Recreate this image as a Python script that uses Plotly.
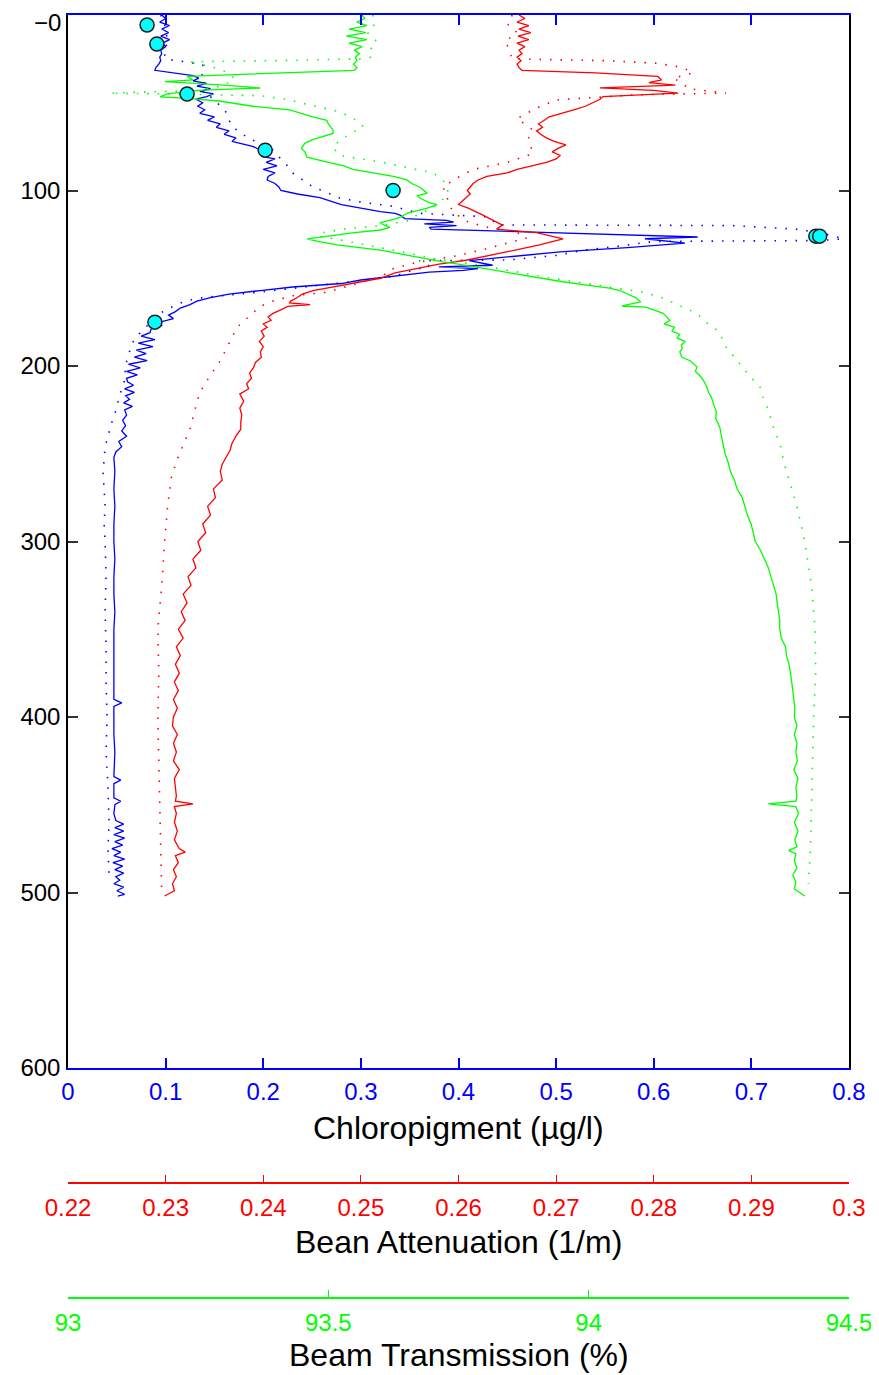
import plotly.graph_objects as go

# ---------------- data ----------------
chl_depth = [0,2,4,6,8,10,12,14,16,18,20,22,24,26,28,30,31.5,33,34.5,36,37.5,39,40.5,42,43.5,45,46.5,48,50,52,54,56,58,60,62,64,66,68,70,72,73.5,75,77,79,80.5,82,84,86,88,90,92,94,96,98,100,102,104,106,108,110,112,113,114,116,117,118,119,120,121,122,126.5,127.5,130,132.6,135,137.6,140,142.6,143.5,144.5,145.5,146.5,149,150,151,153,155,157,159,161,163,165,167,169,171,173,175,177,179,181,183,185,187,189,191,193,195,197,199,201,203,205,207,209,211,213,215,217,219,221,223,225,228,231,234,237,240,243,246,249,252,260,270,280,290,300,310,320,330,340,350,360,370,380,390,392,394,410,420,434,436,438,446,448,450,455,459,461,463,465,467,469,471,473,475,477,479,481,483,485,487,489,491,493,495,497,499,501,502]
chl_value = [0.096,0.100,0.094,0.104,0.096,0.103,0.095,0.104,0.097,0.100,0.095,0.096,0.094,0.095,0.093,0.090,0.089,0.110,0.128,0.134,0.128,0.142,0.132,0.146,0.135,0.149,0.142,0.131,0.138,0.133,0.140,0.135,0.150,0.143,0.156,0.152,0.165,0.160,0.172,0.168,0.178,0.190,0.197,0.205,0.198,0.212,0.203,0.214,0.200,0.212,0.205,0.204,0.212,0.216,0.218,0.235,0.258,0.270,0.280,0.300,0.320,0.335,0.340,0.345,0.388,0.395,0.365,0.398,0.370,0.372,0.645,0.591,0.632,0.573,0.504,0.455,0.411,0.435,0.380,0.420,0.405,0.370,0.332,0.320,0.300,0.280,0.230,0.197,0.165,0.146,0.132,0.125,0.115,0.110,0.103,0.108,0.094,0.096,0.085,0.084,0.075,0.089,0.072,0.087,0.070,0.080,0.068,0.081,0.062,0.074,0.060,0.071,0.060,0.061,0.067,0.058,0.068,0.059,0.063,0.057,0.066,0.058,0.060,0.056,0.059,0.055,0.060,0.052,0.055,0.049,0.047,0.048,0.047,0.048,0.047,0.047,0.048,0.047,0.047,0.048,0.047,0.047,0.047,0.047,0.047,0.055,0.047,0.047,0.048,0.047,0.054,0.047,0.047,0.054,0.048,0.047,0.049,0.057,0.048,0.057,0.047,0.058,0.048,0.056,0.045,0.054,0.047,0.058,0.046,0.056,0.048,0.057,0.049,0.053,0.047,0.057,0.050,0.058,0.051]

chl2_depth = [0,5,10,15,20,25,26,27,28.5,32,36,40,44,48,52,56,60,64,69.5,73,77,82,86,90,94,98,101,104,106.5,109,113,115,119.6,120,122,124,126,127.6,128.5,129,132,134,137,139.6,140,143,146,149,152,155,158.5,161,163,166,170,175,181,185,189,195,200,206,212,218,224,230,236,241,246,253,261,270,280,290,300,320,340,360,380,400,420,440,460,475,490]
chl2_value = [0.095,0.099,0.100,0.103,0.098,0.100,0.110,0.125,0.138,0.140,0.135,0.142,0.138,0.150,0.156,0.163,0.165,0.169,0.183,0.195,0.210,0.218,0.225,0.230,0.240,0.251,0.265,0.276,0.299,0.333,0.360,0.430,0.440,0.680,0.745,0.770,0.785,0.794,0.770,0.600,0.560,0.528,0.500,0.450,0.360,0.370,0.350,0.333,0.290,0.245,0.186,0.138,0.120,0.108,0.094,0.085,0.074,0.068,0.064,0.062,0.058,0.059,0.056,0.052,0.050,0.046,0.043,0.040,0.038,0.037,0.036,0.037,0.038,0.037,0.038,0.039,0.038,0.039,0.039,0.040,0.039,0.041,0.042,0.041,0.042]

att_depth = [0,2,4,6,8,10,12,14,16,18,20,22,24,26,28,30,31.5,33,35,37,38.5,40,41.5,43,44.5,46.5,48,50,52,54,56,58,60,62,64,66,68,70,72,74,76,78,80,82,84,86.5,88,90,92,94,96,98,100,102,104,106,108,110,112,114,116,118,119.7,122,124,127.6,131,135,139.6,142,145,147,150,153,155,157,159,161,163,164,165,166,168,170,172,174,176,178,180,183,186,189,192,195,198,201,204,207,210,213,216,220,224,228,232,236,240,244,248,252,256,260,265,270,275,280,285,290,295,300,305,310,315,320,325,330,335,340,345,350,355,360,365,370,375,380,385,390,395,400,405,410,415,420,425,430,435,440,445,448,449.5,451,455,460,465,470,475,477,479,483,487,491,495,499,502]
att_value = [0.2662,0.2668,0.2660,0.2672,0.2662,0.2674,0.2661,0.2672,0.2660,0.2668,0.2662,0.2665,0.2660,0.2664,0.2660,0.2662,0.2665,0.2740,0.2804,0.2808,0.2795,0.2822,0.2745,0.2800,0.2825,0.2748,0.2745,0.2738,0.2730,0.2718,0.2705,0.2693,0.2688,0.2682,0.2686,0.2680,0.2684,0.2690,0.2698,0.2710,0.2702,0.2696,0.2704,0.2700,0.2690,0.2673,0.2660,0.2650,0.2629,0.2620,0.2615,0.2612,0.2609,0.2612,0.2608,0.2605,0.2600,0.2610,0.2618,0.2625,0.2632,0.2640,0.2645,0.2639,0.2680,0.2707,0.2683,0.2649,0.2609,0.2580,0.2553,0.2535,0.2520,0.2490,0.2468,0.2451,0.2440,0.2435,0.2428,0.2427,0.2448,0.2425,0.2418,0.2410,0.2405,0.2408,0.2400,0.2404,0.2398,0.2401,0.2396,0.2400,0.2397,0.2398,0.2392,0.2390,0.2386,0.2388,0.2383,0.2385,0.2376,0.2380,0.2376,0.2378,0.2377,0.2377,0.2372,0.2368,0.2366,0.2362,0.2358,0.2356,0.2358,0.2349,0.2351,0.2343,0.2346,0.2338,0.2341,0.2333,0.2336,0.2328,0.2331,0.2323,0.2326,0.2318,0.2322,0.2316,0.2320,0.2313,0.2318,0.2311,0.2315,0.2310,0.2314,0.2309,0.2313,0.2308,0.2312,0.2308,0.2307,0.2312,0.2308,0.2311,0.2308,0.2314,0.2309,0.2310,0.2311,0.2310,0.2328,0.2309,0.2311,0.2309,0.2312,0.2309,0.2314,0.2320,0.2310,0.2313,0.2308,0.2311,0.2307,0.2309,0.2299]

att2_depth = [0,5,10,15,20,25,25.5,26,27.5,30,33,36,39,42,44.5,45.5,48.4,53,59,62,65.5,70,75,79,84,88,93,98,103,108,113,118,121,124,127,130,133,137,141,145,149,154,158,160,163,166,172,178,187,197,206,215,225,236,245,253,263,280,300,325,350,375,400,425,450,475,500]
att2_value = [0.2655,0.2650,0.2660,0.2648,0.2652,0.2655,0.2700,0.2750,0.2804,0.2830,0.2840,0.2820,0.2830,0.2835,0.2874,0.2780,0.2700,0.2680,0.2660,0.2668,0.2676,0.2672,0.2674,0.2676,0.2650,0.2615,0.2598,0.2584,0.2588,0.2590,0.2596,0.2610,0.2630,0.2660,0.2670,0.2650,0.2630,0.2600,0.2557,0.2530,0.2522,0.2490,0.2465,0.2430,0.2410,0.2397,0.2385,0.2373,0.2365,0.2356,0.2345,0.2335,0.2330,0.2325,0.2318,0.2312,0.2306,0.2302,0.2299,0.2296,0.2292,0.2293,0.2292,0.2293,0.2294,0.2295,0.2296]

tr_depth = [0,2,4,6,8,10,12,14,16,18,20,22,24,26,28,30,31.5,33,35,37,38,40,41.6,43,45,46.7,47.5,49,52,54,56,58,60,62,64,65.5,67.5,69,71,73,74.6,76,78,81,84,86,88,90,92,94,96,98,100,101.5,103,105,107,108,110,112,113,115,116.5,118.5,121,122.5,124,126,127.6,129,131,134,137.5,139.6,140.7,142,144,146,148,150,152,154,155.6,157,159,161,163.5,165.8,166.5,168,170,172,174,176,178,180,182,184,186,188,190,192,195,197,200.5,203,206,209,212,215,218,222,226,230,235,240,245,250,255,260,265,270,275,280,285,290,295,300,305,310,315,320,325,330,335,340,345,350,355,360,365,370,375,380,385,390,395,400,405,410,415,420,425,430,435,440,445,448,449.5,451,455,460,465,470,474,476,478,482,486,490,494,498,502]
tr_value = [93.565,93.570,93.555,93.574,93.540,93.572,93.535,93.574,93.540,93.565,93.550,93.560,93.552,93.555,93.548,93.555,93.550,93.400,93.229,93.240,93.186,93.300,93.369,93.250,93.190,93.177,93.230,93.290,93.355,93.426,93.446,93.470,93.497,93.500,93.505,93.509,93.509,93.490,93.470,93.455,93.451,93.448,93.455,93.459,93.500,93.530,93.547,93.590,93.625,93.651,93.660,93.675,93.683,93.690,93.670,93.680,93.695,93.709,93.690,93.660,93.651,93.640,93.625,93.599,93.618,93.600,93.550,93.500,93.459,93.480,93.517,93.600,93.660,93.701,93.720,93.750,93.790,93.830,93.870,93.910,93.950,94.000,94.040,94.060,94.075,94.090,94.100,94.064,94.110,94.125,94.143,94.150,94.156,94.145,94.165,94.160,94.175,94.170,94.185,94.178,94.180,94.175,94.179,94.195,94.208,94.205,94.215,94.222,94.227,94.230,94.236,94.240,94.245,94.244,94.252,94.255,94.258,94.262,94.268,94.272,94.280,94.285,94.295,94.300,94.305,94.312,94.316,94.320,94.330,94.338,94.345,94.350,94.355,94.360,94.362,94.365,94.367,94.367,94.370,94.378,94.380,94.385,94.388,94.390,94.392,94.394,94.396,94.395,94.400,94.395,94.400,94.398,94.401,94.394,94.402,94.398,94.400,94.398,94.345,94.398,94.403,94.395,94.402,94.396,94.400,94.384,94.398,94.395,94.400,94.392,94.398,94.395,94.415]

tr2_depth = [0,5,10,15,20,24,25,26,26.5,27,29,32,36,40,43,44.5,45,46,48,51,55,58,61,63.7,68,72,75,80,84,88,90,94,98,101,105,110,114,117,120,122,124,126,128,131,134,138.6,142,147,150,152.7,155,157.9,161,165,170,175,179.5,185,190,195,201,206,212,218,225,235,245,255,265,280,300,325,350,375,400,425,450,475,495]
tr2_value = [93.585,93.590,93.575,93.593,93.580,93.583,93.560,93.400,93.250,93.230,93.270,93.300,93.320,93.300,93.250,93.080,93.200,93.369,93.420,93.460,93.520,93.542,93.560,93.567,93.540,93.520,93.509,93.520,93.605,93.670,93.701,93.720,93.728,93.730,93.720,93.700,93.670,93.657,93.600,93.530,93.490,93.480,93.520,93.570,93.625,93.700,93.780,93.874,93.930,93.990,94.040,94.104,94.140,94.170,94.208,94.225,94.246,94.258,94.265,94.280,94.296,94.310,94.329,94.335,94.345,94.355,94.368,94.375,94.385,94.400,94.415,94.428,94.435,94.436,94.432,94.430,94.428,94.426,94.422]

bottle_depth = [5.7, 16.5, 45, 77, 100, 126, 126, 175]
bottle_value = [0.081, 0.091, 0.122, 0.202, 0.333, 0.766, 0.770, 0.089]

depth_ticks = [0, 100, 200, 300, 400, 500, 600]
depth_ticktext = ["", "100", "200", "300", "400", "500", "600"]
top_depth_label = "\u22120"   # MATLAB's "-0" at the top tick, drawn slightly lower so it is not clipped
chl_ticks = [0, 0.1, 0.2, 0.3, 0.4, 0.5, 0.6, 0.7, 0.8]
chl_ticktext = ["0", "0.1", "0.2", "0.3", "0.4", "0.5", "0.6", "0.7", "0.8"]
att_ticks = [0.22, 0.23, 0.24, 0.25, 0.26, 0.27, 0.28, 0.29, 0.30]
att_ticktext = ["0.22", "0.23", "0.24", "0.25", "0.26", "0.27", "0.28", "0.29", "0.3"]
tr_ticks = [93, 93.5, 94, 94.5]
tr_ticktext = ["93", "93.5", "94", "94.5"]

# ---------------- styling ----------------
BLUE, RED, GREEN, CYAN = "#0000ff", "#ff0000", "#00ff00", "#00ffff"
FONT = "Liberation Sans, Arial, Helvetica, sans-serif"
TICK_SIZE = 24
TITLE_SIZE = 32
DOT = "1.5px,9px"

# page body has an 8px margin; figure fills the rest of the 879x1375 window
OFF = 8
W, H = 879 - OFF, 1375 - OFF
ML, MR, MT, MB = 68 - OFF, 30, 15 - OFF, 77
paper_h = H - MT - MB
paper_w = W - ML - MR
def py(px):  # absolute screen row -> paper fraction
    return (H - MB - (px - OFF)) / paper_h
def px_(x):  # absolute screen column -> paper fraction
    return (x - OFF - ML) / paper_w

fig = go.Figure()
fig.add_trace(go.Scatter(x=chl_value, y=chl_depth, mode="lines",
                         line=dict(color=BLUE, width=1.3), xaxis="x", yaxis="y"))
fig.add_trace(go.Scatter(x=chl2_value, y=chl2_depth, mode="lines",
                         line=dict(color=BLUE, width=1.6, dash=DOT), xaxis="x", yaxis="y"))
fig.add_trace(go.Scatter(x=att_value, y=att_depth, mode="lines",
                         line=dict(color=RED, width=1.3), xaxis="x2", yaxis="y"))
fig.add_trace(go.Scatter(x=att2_value, y=att2_depth, mode="lines",
                         line=dict(color=RED, width=1.6, dash=DOT), xaxis="x2", yaxis="y"))
fig.add_trace(go.Scatter(x=tr_value, y=tr_depth, mode="lines",
                         line=dict(color=GREEN, width=1.3), xaxis="x3", yaxis="y"))
fig.add_trace(go.Scatter(x=tr2_value, y=tr2_depth, mode="lines",
                         line=dict(color=GREEN, width=1.6, dash=DOT), xaxis="x3", yaxis="y"))
fig.add_trace(go.Scatter(x=bottle_value, y=bottle_depth, mode="markers",
                         marker=dict(color=CYAN, size=14, line=dict(color="#1a1a1a", width=1.5)),
                         xaxis="x4", yaxis="y"))

common_x = dict(showgrid=False, zeroline=False, showline=True, linewidth=1.5,
                ticks="inside", fixedrange=True, automargin=False,
                ticklabeloverflow="allow")

fig.update_layout(
    width=W, height=H,
    margin=dict(l=ML, r=MR, t=MT, b=MB, autoexpand=False),
    paper_bgcolor="white", plot_bgcolor="white",
    showlegend=False,
    font=dict(family=FONT, size=TICK_SIZE, color="black"),
    yaxis=dict(domain=[py(1068), 1], range=[600, 0], tickvals=depth_ticks,
               ticktext=depth_ticktext, showgrid=False, zeroline=False, automargin=False,
               showline=True, linecolor="black", linewidth=1.5, mirror="ticks",
               ticks="inside", ticklen=10, tickcolor="#333333", tickwidth=1.5,
               ticklabeloverflow="allow",
               tickfont=dict(size=TICK_SIZE, color="black"), ticklabelstandoff=1),
    xaxis=dict(common_x, range=[0, 0.8], anchor="y", side="bottom",
               linecolor=BLUE, mirror="ticks", ticklen=10, tickcolor=BLUE, tickwidth=1.5,
               tickvals=chl_ticks, ticktext=chl_ticktext,
               tickfont=dict(size=TICK_SIZE, color=BLUE), ticklabelstandoff=1),
    xaxis2=dict(common_x, range=[0.22, 0.30], overlaying="x", anchor="free",
                position=py(1183), side="bottom", linecolor=RED, ticklen=7,
                tickcolor=RED, tickwidth=1.2, tickvals=att_ticks, ticktext=att_ticktext,
                tickfont=dict(size=TICK_SIZE, color=RED), ticklabelstandoff=3),
    xaxis3=dict(common_x, range=[93, 94.5], overlaying="x", anchor="free",
                position=py(1298), side="bottom", linecolor=GREEN, ticklen=7,
                tickcolor=GREEN, tickwidth=1.2, tickvals=tr_ticks, ticktext=tr_ticktext,
                tickfont=dict(size=TICK_SIZE, color=GREEN), ticklabelstandoff=3),
    xaxis4=dict(range=[0, 0.8], overlaying="x", visible=False, fixedrange=True),
)

# top depth label
fig.add_annotation(text=top_depth_label, x=px_(62), y=py(23), xref="paper", yref="paper",
                   xanchor="right", yanchor="middle", showarrow=False, borderpad=0,
                   font=dict(family=FONT, size=TICK_SIZE, color="black"))

titles = [("Chloropigment (\u00b5g/l)", 1128),
          ("Bean Attenuation (1/m)", 1242),
          ("Beam Transmission (%)", 1355)]
for text, ypx in titles:
    fig.add_annotation(text=text, x=0.5, y=py(ypx), xref="paper", yref="paper",
                       xanchor="center", yanchor="middle", showarrow=False,
                       font=dict(family=FONT, size=TITLE_SIZE, color="black"))

fig.write_html("out.html")
